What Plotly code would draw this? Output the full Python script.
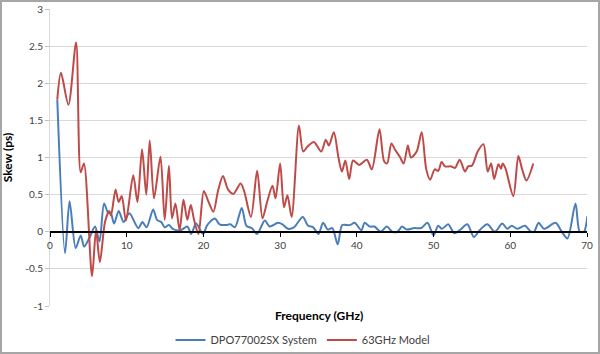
import plotly.graph_objects as go

# 63GHz Model (red)
red_x = [0.95, 1.43, 2.4, 3.4, 4.0, 4.43, 5.48, 6.0, 6.5, 7.17, 7.7, 7.95, 8.55, 8.95, 9.35, 9.9,
         10.85, 11.4, 12.0, 12.55, 13.0, 13.56, 14.4, 14.95, 15.5, 15.9, 16.35, 16.9, 17.4, 17.9,
         18.35, 18.8, 19.35, 20.05, 20.6, 21.3, 21.9, 22.55, 23.2, 23.9, 24.85, 25.3, 26.2, 27.0,
         27.7, 28.3, 29.0, 29.4, 30.0, 30.5, 30.95, 31.5, 32.45, 33.0, 33.6, 34.4, 35.35, 35.95,
         36.35, 37.0, 37.6, 38.05, 38.5, 39.0, 39.5, 40.3, 41.3, 41.95, 42.95, 43.55, 43.95, 44.5,
         45.0, 45.6, 46.1, 46.65, 47.05, 47.8, 48.45, 49.05, 49.55, 50.15, 50.6, 51.05, 51.5, 52.3,
         52.8, 53.4, 54.1, 54.5, 55.0, 55.75, 56.5, 57.05, 57.5, 57.9, 58.45, 58.8, 59.0, 59.35,
         60.4, 61.05, 61.55, 62.1, 63.0]
red_y = [1.78, 2.14, 1.71, 2.55, 0.80, 0.92, -0.60, 0.02, -0.41, 0.13, 0.28, 0.22, 0.57, 0.40, 0.48, 0.15,
         0.76, 0.40, 1.11, 0.50, 1.23, 0.45, 1.01, 0.16, 0.89, 0.18, 0.38, 0.02, 0.43, 0.16,
         0.36, 0.15, -0.03, 0.55, 0.42, 0.27, 0.55, 0.75, 0.57, 0.51, 0.65, 0.55, 0.20, 0.82,
         0.18, 0.40, 0.62, 0.45, 0.92, 0.33, 0.49, 0.20, 1.43, 1.08, 1.15, 1.21, 1.08, 1.24,
         1.16, 1.34, 1.00, 0.81, 0.96, 0.71, 0.96, 0.90, 0.97, 0.84, 1.38, 0.95, 0.92, 1.19,
         1.10, 1.01, 0.92, 1.16, 1.00, 1.08, 1.34, 0.84, 0.70, 0.84, 0.82, 0.94, 0.88, 0.88,
         0.86, 0.97, 0.81, 0.88, 0.89, 1.08, 1.18, 0.81, 0.92, 0.71, 0.91, 0.85, 0.92, 0.86,
         0.48, 1.02, 0.84, 0.69, 0.92]

# DPO77002SX System (blue)
blue_x = [0.95, 1.96, 2.55, 3.35, 4.0, 4.45, 5.2, 5.87, 6.45, 7.05, 7.6, 7.9, 8.35, 8.95, 9.6,
          10.35, 11.5, 12.05, 12.6, 13.45, 13.95, 14.5, 14.95, 15.5, 16.0, 17.0, 17.9, 18.4, 19.05,
          19.95, 20.5, 21.5, 22.1, 22.9, 23.5, 24.1, 25.0, 25.6, 26.3, 27.0, 28.0, 28.65, 29.7,
          30.3, 31.0, 31.8, 32.95, 33.65, 34.3, 35.0, 35.6, 36.2, 36.8, 37.5, 38.1, 39.1, 39.7,
          40.6, 41.0, 41.7, 42.3, 43.1, 43.9, 44.6, 45.3, 45.9, 46.5, 47.5, 48.4, 49.2, 50.0,
          50.6, 51.1, 51.9, 52.7, 53.4, 54.4, 55.25, 56.0, 57.0, 58.0, 58.95, 59.6, 60.2, 60.9,
          61.9, 62.7, 63.1, 63.7, 64.4, 65.9, 66.6, 67.45, 68.5, 69.05, 69.6, 70.05]
blue_y = [1.78, -0.29, 0.41, -0.22, -0.05, -0.20, -0.07, 0.07, -0.13, 0.38, 0.25, 0.26, 0.11, 0.28, 0.13,
          0.25, 0.05, 0.13, 0.06, 0.30, 0.16, 0.13, 0.06, 0.09, 0.04, 0.02, 0.07, -0.03, 0.11,
          -0.03, 0.09, 0.18, 0.10, 0.09, 0.10, 0.06, 0.32, 0.08, 0.05, -0.03, 0.15, 0.07, 0.12,
          0.10, 0.04, 0.06, 0.20, 0.08, 0.06, -0.03, 0.12, 0.03, 0.05, -0.17, 0.09, 0.09, 0.12,
          0.02, 0.12, 0.07, 0.07, 0.00, 0.07, 0.00, 0.00, 0.07, 0.03, 0.05, 0.05, 0.12, -0.05,
          0.08, 0.04, 0.10, -0.02, 0.02, 0.10, -0.07, 0.02, 0.10, 0.00, 0.11, 0.04, 0.08, 0.04,
          0.08, 0.00, 0.00, 0.12, 0.04, 0.12, 0.02, -0.09, 0.38, 0.00, 0.00, 0.21]

x_ticks = [0, 10, 20, 30, 40, 50, 60, 70]
y_ticks = [-1, -0.5, 0, 0.5, 1, 1.5, 2, 2.5, 3]
y_tick_text = ["-1", "-0.5", "0", "0.5", "1", "1.5", "2", "2.5", "3"]

FONT = "Lato, 'Open Sans', sans-serif"

fig = go.Figure()
fig.add_trace(go.Scatter(x=blue_x, y=blue_y, mode="lines", name="DPO77002SX System",
                         line=dict(color="#4A7EBB", width=2, shape="spline", smoothing=0.8)))
fig.add_trace(go.Scatter(x=red_x, y=red_y, mode="lines", name="63GHz Model",
                         line=dict(color="#BE4B48", width=2, shape="spline", smoothing=0.8)))

L, R, T, B = 50, 13, 9, 48
W, H = 600, 354
pw, ph = W - L - R, H - T - B

fig.update_layout(
    width=W, height=H,
    margin=dict(l=L, r=R, t=T, b=B, autoexpand=False),
    paper_bgcolor="white", plot_bgcolor="white",
    font=dict(family=FONT, size=10, color="#404040"),
    showlegend=True,
    legend=dict(orientation="h", xref="container", yref="container",
                x=303 / W, xanchor="center", y=1 - 340 / H, yanchor="middle",
                font=dict(size=11, color="#404040"), itemwidth=30,
                bgcolor="rgba(0,0,0,0)"),
    xaxis=dict(range=[0, 70], tickvals=x_ticks, ticktext=[str(v) for v in x_ticks],
               anchor="free", position=0.25, showline=True, linecolor="black", linewidth=2,
               ticks="outside", ticklen=4, tickcolor="black", showgrid=False, zeroline=False,
               automargin=False, tickfont=dict(size=10, color="#404040")),
    yaxis=dict(range=[-1, 3], tickvals=y_ticks, ticktext=y_tick_text,
               showgrid=True, gridcolor="#D9D9D9", gridwidth=1, zeroline=False,
               showline=True, linecolor="#D9D9D9", linewidth=1,
               ticks="outside", ticklen=4, tickcolor="#BFBFBF", automargin=False,
               tickfont=dict(size=10, color="#404040"),
               title=dict(text="<b>Skew (ps)</b>", font=dict(size=12, color="#000000"), standoff=12)),
)

fig.add_annotation(text="<b>Frequency (GHz)</b>", xref="paper", yref="paper",
                   x=0.5, y=-(315 - (H - B)) / ph, xanchor="center", yanchor="middle",
                   showarrow=False, font=dict(size=12, color="#000000", family=FONT))

# outer chart border
fig.add_shape(type="rect", xref="paper", yref="paper",
              x0=(1 - L) / pw, x1=(W - 1 - L) / pw,
              y0=(H - B - (H - 1)) / ph, y1=(H - B - 1) / ph,
              line=dict(color="#A6A6A6", width=2), layer="below")

fig.write_html("out.html")
